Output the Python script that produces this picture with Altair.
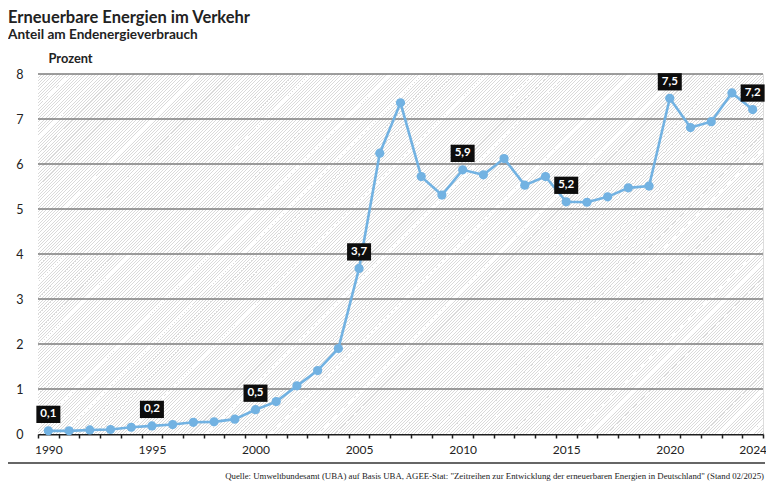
import altair as alt
import pandas as pd

# ---- data ----
years = list(range(1990, 2025))
values = [0.07, 0.07, 0.09, 0.10, 0.15, 0.18, 0.21, 0.26, 0.27, 0.33,
          0.54, 0.72, 1.07, 1.41, 1.90, 3.68, 6.24, 7.36, 5.72, 5.31,
          5.87, 5.76, 6.12, 5.53, 5.72, 5.16, 5.15, 5.27, 5.47, 5.51,
          7.46, 6.81, 6.94, 7.58, 7.21]
label_years = [1990, 1995, 2000, 2005, 2010, 2015, 2020, 2024]
y_ticks = [0, 1, 2, 3, 4, 5, 6, 7, 8]
grid_values = [1, 2, 3, 4, 5, 6, 7, 8]

title = "Erneuerbare Energien im Verkehr"
subtitle = "Anteil am Endenergieverbrauch"
y_title = "Prozent"
source = ('Quelle: Umweltbundesamt (UBA) auf Basis UBA, AGEE-Stat: "Zeitreihen zur Entwicklung '
          'der erneuerbaren Energien in Deutschland" (Stand 02/2025)')

df = pd.DataFrame({"year": years, "value": values})

W, H = 725, 360
x_lo, x_hi = years[0] - 0.5, years[-1] + 0.5
tick_pos = [y - 0.5 for y in years] + [x_hi]

FONT = "Lato"
LINE = "#72b2e2"
DARK = "#1e1e1e"

x_scale = alt.Scale(domain=[x_lo, x_hi], nice=False, zero=False)
y_scale = alt.Scale(domain=[0, 8], nice=False)

label_list = ",".join(str(v) for v in label_years)
x_axis = alt.Axis(
    values=tick_pos,
    labelExpr=f"indexof([{label_list}], datum.value + 0.5) >= 0 ? '' + (datum.value + 0.5) : ''",
    labelOffset=W / (x_hi - x_lo) / 2,
    labelFlush=False, labelOverlap=False, labelBound=False,
    tickSize=4, tickColor=DARK, tickWidth=1.5,
    domainColor=DARK, domainWidth=2,
    grid=False, title=None,
    labelFont=FONT, labelFontSize=12, labelColor="#222", labelPadding=6,
)
y_axis = alt.Axis(
    values=y_ticks, grid=False, domain=False, ticks=False,
    labelFont=FONT, labelFontSize=12.5, labelColor="#222", labelPadding=15,
    title=y_title, titleAngle=0, titleAlign="left", titleBaseline="alphabetic",
    titleX=10, titleY=-12, titleFont=FONT, titleFontSize=12.8,
    titleFontWeight="bold", titleColor="#222",
)

# hatch background via a striped linear gradient
span = W + H
r = H / W
a = span / (W * (1 + r * r))
period, lw = 3.2, 1.0
stops = []
k = 0
while k * period < span:
    t0 = k * period / span
    t1 = min((k * period + lw) / span, 1.0)
    stops += [
        {"offset": t0, "color": "#ffffff"},
        {"offset": t0, "color": "#dadada"},
        {"offset": t1, "color": "#dadada"},
        {"offset": t1, "color": "#ffffff"},
    ]
    k += 1
hatch = {"gradient": "linear", "x1": 0, "y1": 0, "x2": a, "y2": a * r, "stops": stops}

bg_df = pd.DataFrame({"x0": [x_lo], "x1": [x_hi], "y0": [0], "y1": [8]})
bg = alt.Chart(bg_df).mark_rect(fill=hatch, strokeWidth=0).encode(
    x=alt.X("x0:Q", scale=x_scale, axis=x_axis),
    x2="x1:Q",
    y=alt.Y("y0:Q", scale=y_scale, axis=y_axis),
    y2="y1:Q",
)

grid = alt.Chart(pd.DataFrame({"g": grid_values})).mark_rule(
    color="#7d7d7d", strokeWidth=1.3
).encode(y=alt.Y("g:Q", scale=y_scale, axis=y_axis))

base = alt.Chart(df).encode(
    x=alt.X("year:Q", scale=x_scale, axis=x_axis),
    y=alt.Y("value:Q", scale=y_scale, axis=y_axis),
)
line = base.mark_line(color=LINE, strokeWidth=2.6)
points = base.mark_point(filled=True, color=LINE, opacity=1, size=85, shape="circle")

lab = base.transform_filter(
    alt.FieldOneOfPredicate(field="year", oneOf=label_years)
).transform_calculate(
    txt="replace(format(datum.value, '.1f'), '.', ',')"
)
boxes = lab.mark_point(
    filled=True, color="#0d0d0d", opacity=1,
    shape="M-1,-0.72H1V0.72H-1Z", size=576, yOffset=-16.5,
)
texts = lab.mark_text(
    color="white", font=FONT, fontWeight="bold", fontSize=11.5,
    baseline="middle", align="center", yOffset=-16.5,
).encode(text="txt:N")

def free_text(s, x, y, size, weight="bold", align="left", font=FONT, color="#222"):
    return alt.Chart(pd.DataFrame({"t": [s]})).mark_text(
        font=font, fontSize=size, fontWeight=weight, align=align,
        baseline="alphabetic", color=color,
    ).encode(text="t:N", x=alt.value(x), y=alt.value(y))

t_title = free_text(title, -30, -51, 16.5)
t_sub = free_text(subtitle, -30, -35, 13.6)
t_src = free_text(source, 726, 405, 8.8, weight="normal", align="right",
                  font="Liberation Serif", color="#222")
footer_rule = alt.Chart(pd.DataFrame({"a": [0]})).mark_rule(
    color="#333", strokeWidth=1.5
).encode(x=alt.value(-33), x2=alt.value(727), y=alt.value(389))

chart = alt.layer(
    bg, grid, line, points, boxes, texts, t_title, t_sub, footer_rule, t_src
).properties(
    width=W, height=H,
    autosize=alt.AutoSizeParams(type="none"),
    padding={"left": 30, "top": 66, "right": 3, "bottom": 47},
).configure_view(stroke=None).configure(background="white")

chart.save("out.html", embed_options={"renderer": "svg", "actions": False})
